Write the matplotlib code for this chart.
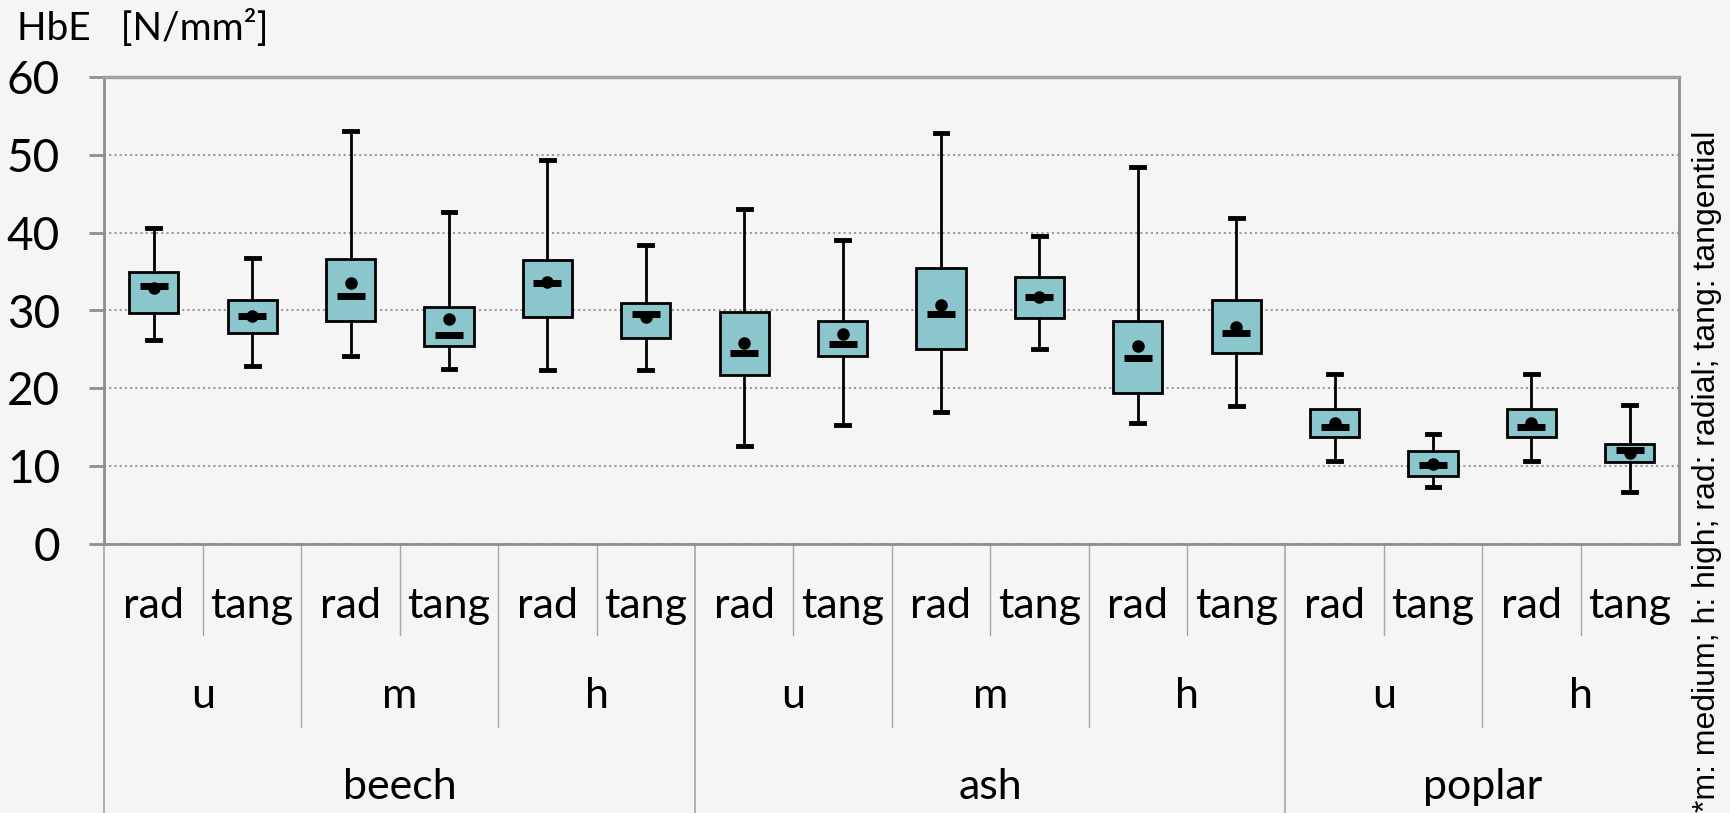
import numpy as np
import matplotlib
matplotlib.use("Agg")
import matplotlib.pyplot as plt
import matplotlib.transforms as mtransforms

# --- data (N/mm^2) ---
species = ["beech", "ash", "poplar"]
levels = [["u", "m", "h"], ["u", "m", "h"], ["u", "h"]]
directions = ["rad", "tang"]

whisker_hi = [40.6, 36.7, 53.1, 42.6, 49.3, 38.4, 43.1, 39.0, 52.8, 39.6, 48.4, 41.9, 21.8, 14.1, 21.8, 17.9]
q3 = [35.0, 31.3, 36.6, 30.5, 36.5, 31.0, 29.8, 28.7, 35.4, 34.3, 28.6, 31.4, 17.3, 12.0, 17.3, 12.9]
medians = [33.1, 29.25, 31.9, 26.8, 33.5, 29.5, 24.5, 25.7, 29.5, 31.7, 23.9, 27.1, 15.0, 10.2, 15.0, 12.1]
q1 = [29.7, 27.1, 28.7, 25.4, 29.2, 26.5, 21.7, 24.1, 25.0, 29.0, 19.4, 24.6, 13.7, 8.8, 13.7, 10.5]
whisker_lo = [26.2, 22.9, 24.2, 22.5, 22.3, 22.4, 12.6, 15.3, 16.9, 25.1, 15.5, 17.7, 10.7, 7.3, 10.7, 6.7]
means = [32.9, 29.3, 33.5, 28.9, 33.6, 29.2, 25.8, 27.0, 30.7, 31.7, 25.5, 27.9, 15.5, 10.3, 15.5, 11.7]

box_color = "#8BC6CD"
bg = "#F5F5F5"
axis_grey = "#8E8E8E"
font_lbl = ["Lato", "DejaVu Sans"]

stats = []
for i in range(len(medians)):
    stats.append({
        "whislo": whisker_lo[i], "q1": q1[i], "med": medians[i],
        "q3": q3[i], "whishi": whisker_hi[i], "mean": means[i], "fliers": [],
    })

fig = plt.figure(figsize=(17.31, 8.13), dpi=100, facecolor=bg)
ax = fig.add_axes([104.5 / 1731, 1 - 544 / 813, (1679 - 104.5) / 1731, (544 - 77) / 813])
ax.set_facecolor(bg)

pos = np.arange(len(stats))
ax.bxp(stats, positions=pos, widths=0.5, patch_artist=True, showmeans=False,
       boxprops=dict(facecolor=box_color, edgecolor="black", linewidth=2),
       whiskerprops=dict(color="black", linewidth=2),
       capprops=dict(color="black", linewidth=3.5),
       capwidths=0.13,
       medianprops=dict(linewidth=0), zorder=3)

# median bars (shorter than the box) and mean dots
ax.plot(pos, medians, linestyle="none", marker="_", markersize=20, mew=5, color="black", zorder=4)
ax.plot(pos, means, linestyle="none", marker="o", markersize=8, color="black", zorder=5)

ax.set_xlim(-0.5, len(stats) - 0.5)
ax.set_ylim(0, 60)
ax.set_yticks(np.arange(0, 61, 10))
ax.yaxis.grid(True, linestyle=(0, (1, 1.5)), color="#9A9A9A", linewidth=1.5)
ax.set_axisbelow(True)
ax.set_xticks([])
ax.tick_params(axis="y", length=11, width=2, color=axis_grey, pad=21, labelsize=33)
for lab in ax.get_yticklabels():
    lab.set_family(font_lbl)
for s in ax.spines.values():
    s.set_color(axis_grey)
    s.set_linewidth(2)
ax.spines["top"].set_linewidth(2.5)
ax.spines["top"].set_color("#A0A0A0")

# --- multi-level category axis ---
trans = mtransforms.blended_transform_factory(ax.transData, ax.transAxes)
sep_col = "#A6A6A6"
y_dir, y_lvl, y_sp = -0.194, -0.391, -0.58

k = 0
for si, sp in enumerate(species):
    start = k
    for lv in levels[si]:
        lv_start = k
        for d in directions:
            ax.text(k, -0.132, d, transform=trans, ha="center", va="center",
                    fontsize=31, family=font_lbl)
            k += 1
        # rad/tang divider
        ax.plot([lv_start + 0.5] * 2, [0, y_dir], transform=trans, color=sep_col,
                linewidth=1, clip_on=False)
        ax.text(lv_start + 0.5, -0.326, lv, transform=trans, ha="center", va="center",
                fontsize=31, family=font_lbl)
        if lv_start != start:
            ax.plot([lv_start - 0.5] * 2, [0, y_lvl], transform=trans, color=sep_col,
                    linewidth=1, clip_on=False)
    ax.plot([start - 0.5] * 2, [0, y_sp], transform=trans, color=sep_col,
            linewidth=1.2, clip_on=False)
    ax.text((start + k - 1) / 2, -0.52, sp, transform=trans, ha="center", va="center",
            fontsize=31, family=font_lbl)

fig.text(17 / 1731, 1 - 28 / 813, "HbE   [N/mm²]", ha="left", va="center",
         fontsize=28, family=font_lbl)
fig.text(1707 / 1731, 1 - 812 / 813, "*m: medium; h: high; rad: radial; tang: tangential",
         rotation=90, ha="center", va="bottom", fontsize=23,
         family=["Liberation Sans", "DejaVu Sans"])

fig.savefig("out.png", dpi=100, facecolor=bg)
